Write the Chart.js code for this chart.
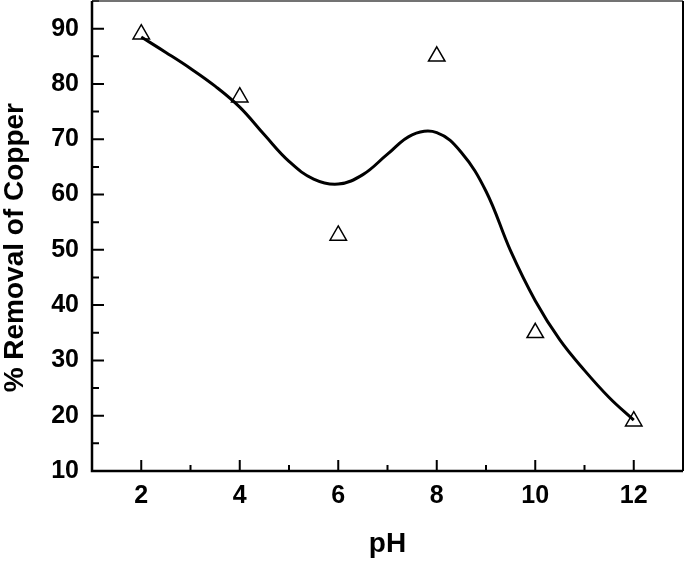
<!DOCTYPE html>
<html>
<head>
<meta charset="utf-8">
<script src="https://cdn.jsdelivr.net/npm/chart.js"></script>
<style>
  body { margin: 0; background: #fff; }
</style>
</head>
<body>
<canvas id="chart" width="685" height="564"></canvas>
<script>
// measured points
var phValues = [2, 4, 6, 8, 10, 12];
var removalValues = [89, 77.6, 52.6, 85, 35, 19];

// fitted curve
var curvePh = [2, 2.5, 3, 3.5, 4, 4.5, 5, 5.5, 6, 6.5, 7, 7.5, 8, 8.5, 9, 9.5, 10, 10.5, 11, 11.5, 12];
var curveValues = [88.5, 85.7, 82.8, 79.6, 75.8, 70.8, 66.0, 62.8, 61.9, 63.6, 67.3, 70.8, 71.2, 67.6, 60.6, 49.8, 40.8, 33.7, 28.2, 23.3, 19.2];

// axis ticks
var xTicks = [2, 4, 6, 8, 10, 12];
var xMinor = [1, 3, 5, 7, 9, 11, 13];
var yTicks = [10, 20, 30, 40, 50, 60, 70, 80, 90];
var yMinor = [15, 25, 35, 45, 55, 65, 75, 85, 95];

var labelFont = { family: 'Liberation Sans', weight: 'bold', size: 25 };
var titleFont = { family: 'Liberation Sans', weight: 'bold', size: 28, lineHeight: 1.1 };

// inward ticks and the frame round the plot
const tickMarks = {
    id: 'tickMarks',
    afterDraw(chart) {
        const ctx = chart.ctx
        const a = chart.chartArea
        const x = chart.scales.x
        const y = chart.scales.y
        ctx.save()
        ctx.strokeStyle = '#000'
        ctx.lineWidth = 2
        ctx.beginPath()
        xTicks.forEach(function (v) {
            const px = x.getPixelForValue(v)
            ctx.moveTo(px, a.bottom)
            ctx.lineTo(px, a.bottom - 11)
        })
        xMinor.forEach(function (v) {
            const px = x.getPixelForValue(v)
            ctx.moveTo(px, a.bottom)
            ctx.lineTo(px, a.bottom - 6)
        })
        yTicks.forEach(function (v) {
            const py = y.getPixelForValue(v)
            ctx.moveTo(a.left, py)
            ctx.lineTo(a.left + 12, py)
        })
        yMinor.forEach(function (v) {
            const py = y.getPixelForValue(v)
            ctx.moveTo(a.left, py)
            ctx.lineTo(a.left + 7, py)
        })
        ctx.stroke()

        // top thin and grey, right medium, left and bottom heavier
        ctx.lineWidth = 1.5
        ctx.strokeStyle = '#444'
        ctx.beginPath()
        ctx.moveTo(a.left, a.top)
        ctx.lineTo(a.right, a.top)
        ctx.stroke()
        ctx.lineWidth = 2
        ctx.strokeStyle = '#000'
        ctx.beginPath()
        ctx.moveTo(a.right, a.top)
        ctx.lineTo(a.right, a.bottom)
        ctx.stroke()
        ctx.lineWidth = 2.5
        ctx.beginPath()
        ctx.moveTo(a.left, a.top)
        ctx.lineTo(a.left, a.bottom)
        ctx.lineTo(a.right, a.bottom)
        ctx.stroke()
        ctx.restore()
    }
}

function noEdgePadding(scale) {
    scale.paddingTop = 0
    scale.paddingBottom = 0
    scale.paddingLeft = 0
    scale.paddingRight = 0
}

new Chart(document.getElementById('chart'), {
    type: 'scatter',
    data: {
        datasets: [
            {
                label: 'Fit',
                data: curvePh.map(function (p, i) { return { x: p, y: curveValues[i] } }),
                showLine: true,
                borderColor: '#000',
                borderWidth: 3,
                pointRadius: 0,
                tension: 0.4,
                fill: false
            },
            {
                label: '% Removal',
                data: phValues.map(function (p, i) { return { x: p, y: removalValues[i] } }),
                pointStyle: 'triangle',
                pointRadius: 9.5,
                pointBorderWidth: 1.5,
                borderColor: '#000',
                backgroundColor: 'rgba(255,255,255,0)'
            }
        ]
    },
    options: {
        responsive: false,
        animation: false,
        layout: { autoPadding: false, padding: { top: 1, right: 2, left: 0, bottom: 0 } },
        plugins: {
            legend: { display: false },
            tooltip: { enabled: false }
        },
        scales: {
            x: {
                type: 'linear',
                min: 1,
                max: 13,
                afterBuildTicks: function (scale) {
                    scale.ticks = xTicks.map(function (v) { return { value: v } })
                },
                afterFit: function (scale) {
                    scale.height = 93
                    noEdgePadding(scale)
                },
                grid: { display: false, drawTicks: false },
                border: { display: false },
                ticks: { color: '#000', font: labelFont, padding: 10, maxRotation: 0 },
                title: {
                    display: true,
                    text: 'pH',
                    color: '#000',
                    font: titleFont,
                    padding: { top: 0, bottom: 4 }
                }
            },
            y: {
                min: 10,
                max: 95,
                afterBuildTicks: function (scale) {
                    scale.ticks = yTicks.map(function (v) { return { value: v } })
                },
                afterFit: function (scale) {
                    scale.width = 92
                    noEdgePadding(scale)
                },
                grid: { display: false, drawTicks: false },
                border: { display: false },
                ticks: { color: '#000', font: labelFont, padding: 13 },
                title: {
                    display: true,
                    // trailing spaces nudge the title down a little, as in the figure
                    text: '% Removal of Copper   ',
                    color: '#000',
                    font: titleFont,
                    padding: { top: 0, bottom: 0 }
                }
            }
        }
    },
    plugins: [tickMarks]
});
</script>
</body>
</html>
